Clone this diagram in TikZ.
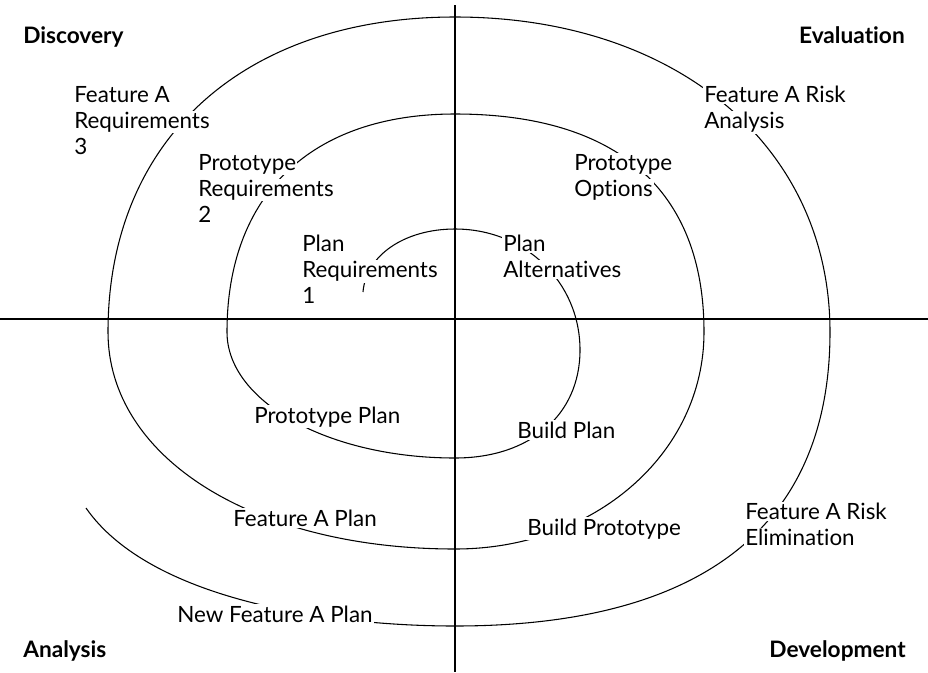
\documentclass[tikz,border=0pt]{standalone}
\usepackage{fontspec}
\setmainfont{Lato}[Ligatures=NoCommon]
\setlength{\fboxsep}{1pt}
\newcommand{\wb}[1]{\colorbox{white}{#1}}
\tikzset{
  axisline/.style={line width=1pt},
  spiralline/.style={line width=0.8pt},
  lbl/.style={font=\fontsize{16.8}{19.5}\selectfont, inner sep=0pt, align=left, anchor=north west, xshift=-1pt, yshift=1pt},
  lblone/.style={font=\fontsize{16.8}{19.5}\selectfont, inner sep=0pt, anchor=base west, xshift=-1pt},
  quad/.style={font=\bfseries\fontsize{17}{19.5}\selectfont, inner sep=0pt},
}
\begin{document}
\begin{tikzpicture}[x=0.75pt,y=-0.75pt]
\useasboundingbox (0,0) rectangle (928,672);
% axes
\coordinate (vtop) at (455,5);
\coordinate (vbot) at (455,672);
\coordinate (hlft) at (0,319);
\coordinate (hrgt) at (928,319);
\draw[axisline] (vtop) -- (vbot);
\draw[axisline] (hlft) -- (hrgt);
% spiral
\draw[spiralline] (363,292) .. controls (366,255) and (405,229) .. (455,229)
  .. controls (525,229) and (580,282) .. (580,350)
  .. controls (580,415) and (530,458) .. (455,458)
  .. controls (329,458) and (227,402) .. (227,332)
  .. controls (227,195) and (311,114) .. (455,114)
  .. controls (617,114) and (704,190) .. (704,332)
  .. controls (704,454) and (594,549) .. (455,549)
  .. controls (254,549) and (108,458) .. (108,332)
  .. controls (108,140) and (243,17) .. (455,17)
  .. controls (676,17) and (830,146) .. (830,332)
  .. controls (830,526) and (702,626) .. (455,626)
  .. controls (330,626) and (150,600) .. (86,508);
% quadrant titles
\node[quad, anchor=base west] (disc) at (23,43) {Discovery};
\node[quad, anchor=base east] (eval) at (905,43) {Evaluation};
\node[quad, anchor=base west] (anal) at (23,657) {Analysis};
\node[quad, anchor=base east] (dev) at (906,657) {Development};
% labels
\node[lbl] (req3) at (74,86) {\wb{Feature A}\\\wb{Requirements}\\\wb{3}};
\node[lbl] (req2) at (198,154) {\wb{Prototype}\\\wb{Requirements}\\\wb{2}};
\node[lbl] (req1) at (302,235) {\wb{Plan}\\\wb{Requirements}\\\wb{1}};
\node[lbl] (risk) at (704,86) {\wb{Feature A Risk}\\\wb{Analysis}};
\node[lbl] (popt) at (574,154) {\wb{Prototype}\\\wb{Options}};
\node[lbl] (palt) at (503,235) {\wb{Plan}\\\wb{Alternatives}};
\node[lblone] (pplan) at (254,423) {\wb{Prototype Plan}};
\node[lblone] (fplan) at (233,526) {\wb{Feature A Plan}};
\node[lblone] (nplan) at (177,622) {\wb{New Feature A Plan}};
\node[lblone] (bplan) at (517,438) {\wb{Build Plan}};
\node[lblone] (bproto) at (527,535) {\wb{Build Prototype}};
\node[lbl] (elim) at (745,503) {\wb{Feature A Risk}\\\wb{Elimination}};
\end{tikzpicture}
\end{document}
